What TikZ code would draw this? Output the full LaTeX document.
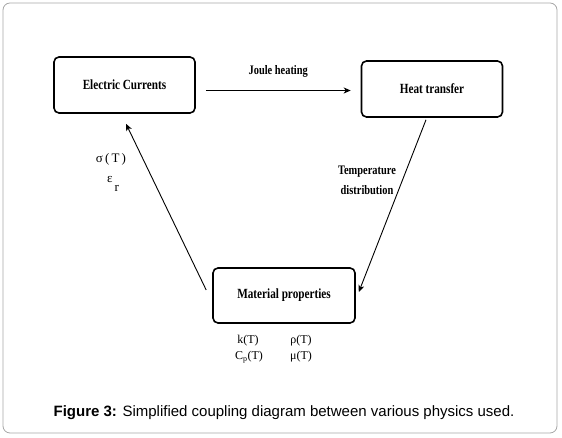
\documentclass[tikz,border=0pt]{standalone}
\usepackage{fontspec}
\setmainfont{Liberation Serif}
\newfontfamily\condfont[FakeStretch=0.8]{Liberation Serif}
\newfontfamily\capfont{Liberation Sans}
\usetikzlibrary{arrows.meta}
\begin{document}
\begin{tikzpicture}[x=1pt, y=1pt,
    physbox/.style={draw, line width=1.6pt, rounded corners=5pt,
        minimum width=141pt, minimum height=56pt,
        font=\condfont\bfseries\fontsize{14}{16}\selectfont},
    couple/.style={line width=0.9pt, -{Stealth[length=7pt, width=6pt, inset=2pt]}},
    edgelabel/.style={font=\condfont\bfseries\fontsize{13}{20}\selectfont, align=center},
    proplabel/.style={font=\fontsize{12}{14}\selectfont}]
    \useasboundingbox (0,0) rectangle (562,438);
    \draw[gray!70, line width=0.8pt, rounded corners=7pt] (3,5) rectangle (557,435);
    \node[physbox] (elec) at (124.5,353) {Electric Currents};
    \node[physbox] (heat) at (432,349) {Heat transfer};
    \node[physbox, minimum width=142pt, minimum height=55pt] (mat) at (284,142.5) {Material properties};
    \draw[couple, line width=1.6pt, shorten <=10pt, shorten >=10pt]
        ([yshift=-5.5pt]elec.east) -- ([yshift=-1.5pt]heat.west)
        node[midway, above=9pt, edgelabel] (joule) {Joule heating};
    \draw[couple] ([xshift=-6pt, yshift=-2pt]heat.south) -- ([xshift=3pt, yshift=3.5pt]mat.east);
    \draw[couple] ([xshift=-6pt, yshift=5.5pt]mat.west) -- ([xshift=1.5pt, yshift=-10pt]elec.south);
    \node[edgelabel] (temp) at (367,258) {Temperature\\distribution};
    \node[proplabel, font=\fontsize{13}{14}\selectfont] (sigma) at (111,279) {σ\,(\,T\,)};
    \node[proplabel, font=\fontsize{13}{14}\selectfont] (eps) at (113,254) {ε\kern2pt\raisebox{-1.5ex}{r}};
    \node[proplabel] (kt) at (248,97) {k(T)};
    \node[proplabel] (rho) at (301,97) {ρ(T)};
    \node[proplabel] (cp) at (249,81) {C\textsubscript{p}(T)};
    \node[proplabel] (mu) at (301,81) {μ(T)};
    \node[font=\capfont\fontsize{15}{18}\selectfont] (caption) at (284,25)
        {\textbf{Figure 3:} Simplified coupling diagram between various physics used.};
\end{tikzpicture}
\end{document}
